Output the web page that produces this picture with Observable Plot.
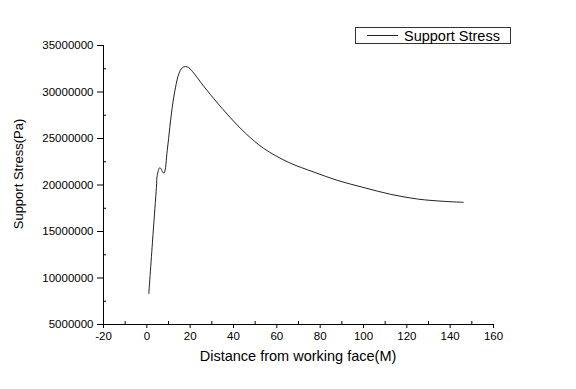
<!DOCTYPE html>
<html>
<head>
<meta charset="utf-8">
<script src="https://cdn.jsdelivr.net/npm/d3@7"></script>
<script src="https://cdn.jsdelivr.net/npm/@observablehq/plot@0.6"></script>
<style>
  html, body { margin: 0; padding: 0; background: #fff; }
  #chart { position: relative; width: 576px; height: 389px; }
  svg { font-family: "Liberation Sans", Arial, sans-serif; }
</style>
</head>
<body>
<div id="chart"></div>
<script>
// Distance from working face (M)
const distance = [0.92, 2.86, 4.43, 4.8, 6.0, 7.85, 9.42, 10.62, 11.73, 13.26, 14.78, 16.35, 17.88, 19.4, 21.71, 24.8, 30.95, 38.66, 45.6, 53.9, 65.45, 77.1, 87.9, 100.2, 112.5, 124.9, 137.2, 146.0];
// Support stress (Pa)
const stress = [8330000, 14700000, 19750000, 21040000, 21860000, 21280000, 23720000, 26220000, 28370000, 30520000, 31960000, 32600000, 32740000, 32600000, 32020000, 31060000, 29270000, 27210000, 25550000, 23940000, 22430000, 21390000, 20500000, 19720000, 19000000, 18490000, 18240000, 18140000];

const xTicks = [-20, 0, 20, 40, 60, 80, 100, 120, 140, 160];
const xMinor = [-10, 10, 30, 50, 70, 90, 110, 130, 150];
const yTicks = [5000000, 10000000, 15000000, 20000000, 25000000, 30000000, 35000000];
const yMinor = [7500000, 12500000, 17500000, 22500000, 27500000, 32500000];

const seriesName = "Support Stress";
const xLabel = "Distance from working face(M)";
const yLabel = "Support Stress(Pa)";

const data = distance.map((d, i) => ({x: d, y: stress[i]}));

const W = 576, H = 389, mL = 103, mR = 83, mT = 45, mB = 65;

const chart = Plot.plot({
  width: W,
  height: H,
  marginLeft: mL,
  marginRight: mR,
  marginTop: mT,
  marginBottom: mB,
  style: {fontFamily: '"Liberation Sans", Arial, sans-serif', fontSize: "11.5px", color: "#000", background: "#fff"},
  x: {domain: [-20, 160]},
  y: {domain: [5000000, 35000000]},
  marks: [
    Plot.axisX({ticks: xTicks, tickSize: 4, tickPadding: 3, tickFormat: d => String(d), label: null, fontSize: 11.5}),
    Plot.axisX({ticks: xMinor, tickSize: -3, tickFormat: () => "", label: null}),
    Plot.axisY({ticks: yTicks, tickSize: 6, tickPadding: 4, tickFormat: d => String(d), label: null, fontSize: 11.5}),
    Plot.axisY({ticks: yMinor, tickSize: -3, tickFormat: () => "", label: null}),
    Plot.ruleY([5000000], {stroke: "#000", strokeWidth: 1}),
    Plot.ruleX([-20], {stroke: "#000", strokeWidth: 1}),
    Plot.line(data, {x: "x", y: "y", stroke: "#222", strokeWidth: 1, curve: "catmull-rom"})
  ]
});

document.getElementById("chart").appendChild(chart);

const svg = d3.select(chart);
// axis titles
svg.append("text")
  .attr("x", mL + (W - mL - mR) / 2)
  .attr("y", 361)
  .attr("text-anchor", "middle")
  .attr("font-size", 14.5)
  .attr("fill", "#000")
  .text(xLabel);
svg.append("text")
  .attr("transform", `translate(23,${174}) rotate(-90)`)
  .attr("text-anchor", "middle")
  .attr("font-size", 13)
  .attr("fill", "#000")
  .text(yLabel);
// legend
const lg = svg.append("g");
lg.append("rect").attr("x", 355.5).attr("y", 27.5).attr("width", 155).attr("height", 16)
  .attr("fill", "#fff").attr("stroke", "#333").attr("stroke-width", 1);
lg.append("line").attr("x1", 367).attr("x2", 398).attr("y1", 35.5).attr("y2", 35.5)
  .attr("stroke", "#222").attr("stroke-width", 1);
lg.append("text").attr("x", 404).attr("y", 40.5).attr("text-anchor", "start")
  .attr("font-size", 14.5).attr("fill", "#000").text(seriesName);
</script>
</body>
</html>
